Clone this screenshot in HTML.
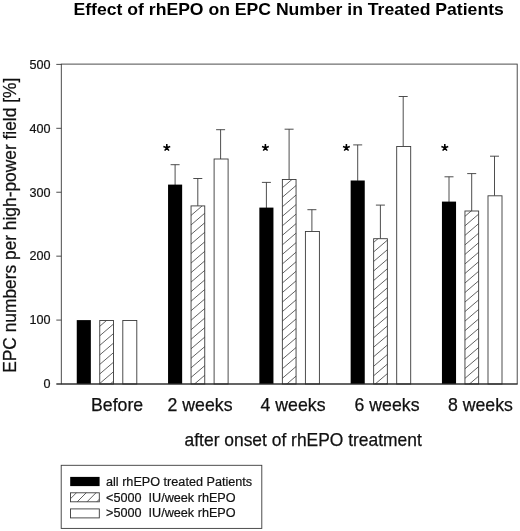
<!DOCTYPE html>
<html><head><meta charset="utf-8"><title>Effect of rhEPO on EPC Number in Treated Patients</title>
<style>
html,body{margin:0;padding:0;background:#fff;}
body{width:520px;height:531px;overflow:hidden;font-family:"Liberation Sans",sans-serif;}
svg{display:block;will-change:transform;transform:translateZ(0);}
text{font-family:"Liberation Sans",sans-serif;fill:#111;}
.ln{stroke:#3a3a3a;stroke-width:0.9;fill:none;}
.bar{stroke:#3a3a3a;stroke-width:0.9;}
.tk{font-size:12.6px;stroke:#111;stroke-width:0.2;}
.xl{font-size:17.7px;stroke:#111;stroke-width:0.25;}
.lg{font-size:12.65px;stroke:#111;stroke-width:0.2;}
.title{font-size:17px;font-weight:bold;fill:#000;}
.star{font-size:20px;font-weight:bold;fill:#000;}
</style></head><body>
<svg width="520" height="531" viewBox="0 0 520 531">
<defs>
<clipPath id="c0"><rect x="99.75" y="320.50" width="13.70" height="63.50"/></clipPath>
<clipPath id="c1"><rect x="191.05" y="205.90" width="13.70" height="178.10"/></clipPath>
<clipPath id="c2"><rect x="282.35" y="179.50" width="13.70" height="204.50"/></clipPath>
<clipPath id="c3"><rect x="373.65" y="238.70" width="13.70" height="145.30"/></clipPath>
<clipPath id="c4"><rect x="464.95" y="211.00" width="13.70" height="173.00"/></clipPath>
<clipPath id="cl"><rect x="70.50" y="492.80" width="28.80" height="9.00"/></clipPath>
</defs>
<rect width="520" height="531" fill="#fff"/>
<text x="73.5" y="15.0" class="title" textLength="430.3" lengthAdjust="spacingAndGlyphs">Effect of rhEPO on EPC Number in Treated Patients</text>
<text transform="translate(15.5,372.8) rotate(-90)" class="xl" textLength="295" lengthAdjust="spacingAndGlyphs">EPC numbers per high-power field [%]</text>
<text x="50.4" y="388.30" text-anchor="end" class="tk">0</text>
<text x="50.4" y="324.38" text-anchor="end" class="tk">100</text>
<text x="50.4" y="260.46" text-anchor="end" class="tk">200</text>
<text x="50.4" y="196.54" text-anchor="end" class="tk">300</text>
<text x="50.4" y="132.62" text-anchor="end" class="tk">400</text>
<text x="50.4" y="68.70" text-anchor="end" class="tk">500</text>
<rect x="76.75" y="320.10" width="14.10" height="63.90" fill="#000"/>
<rect x="99.75" y="320.50" width="13.70" height="63.50" fill="#fff" class="bar"/>
<path d="M98.75 317.63L114.45 304.20M98.75 327.16L114.45 313.73M98.75 336.69L114.45 323.26M98.75 346.21L114.45 332.79M98.75 355.74L114.45 342.32M98.75 365.27L114.45 351.85M98.75 374.80L114.45 361.38M98.75 384.33L114.45 370.91M98.75 393.86L114.45 380.44M98.75 403.39L114.45 389.97" clip-path="url(#c0)" stroke="#3a3a3a" stroke-width="0.8" fill="none"/>
<rect x="122.80" y="320.50" width="14.00" height="63.50" fill="#fff" class="bar"/>
<path d="M175.10 185.00V164.70M170.60 164.70H179.60" class="ln"/>
<rect x="168.05" y="184.60" width="14.10" height="199.40" fill="#000"/>
<path d="M197.80 205.90V178.50M193.30 178.50H202.30" class="ln"/>
<rect x="191.05" y="205.90" width="13.70" height="178.10" fill="#fff" class="bar"/>
<path d="M190.05 206.72L205.75 193.30M190.05 216.25L205.75 202.83M190.05 225.78L205.75 212.36M190.05 235.31L205.75 221.89M190.05 244.84L205.75 231.42M190.05 254.38L205.75 240.95M190.05 263.91L205.75 250.48M190.05 273.44L205.75 260.01M190.05 282.96L205.75 269.54M190.05 292.49L205.75 279.07M190.05 302.02L205.75 288.60M190.05 311.55L205.75 298.13M190.05 321.08L205.75 307.66M190.05 330.61L205.75 317.19M190.05 340.14L205.75 326.72M190.05 349.67L205.75 336.25M190.05 359.20L205.75 345.78M190.05 368.73L205.75 355.31M190.05 378.26L205.75 364.84M190.05 387.79L205.75 374.37M190.05 397.32L205.75 383.90" clip-path="url(#c1)" stroke="#3a3a3a" stroke-width="0.8" fill="none"/>
<path d="M220.60 159.00V129.70M216.10 129.70H225.10" class="ln"/>
<rect x="214.10" y="159.00" width="14.00" height="225.00" fill="#fff" class="bar"/>
<path d="M266.40 208.00V182.40M261.90 182.40H270.90" class="ln"/>
<rect x="259.35" y="207.60" width="14.10" height="176.40" fill="#000"/>
<path d="M289.10 179.50V129.20M284.60 129.20H293.60" class="ln"/>
<rect x="282.35" y="179.50" width="13.70" height="204.50" fill="#fff" class="bar"/>
<path d="M281.35 179.02L297.05 165.60M281.35 188.55L297.05 175.13M281.35 198.08L297.05 184.66M281.35 207.61L297.05 194.19M281.35 217.14L297.05 203.72M281.35 226.67L297.05 213.25M281.35 236.20L297.05 222.78M281.35 245.73L297.05 232.31M281.35 255.26L297.05 241.84M281.35 264.80L297.05 251.37M281.35 274.32L297.05 260.90M281.35 283.85L297.05 270.43M281.35 293.38L297.05 279.96M281.35 302.91L297.05 289.49M281.35 312.44L297.05 299.02M281.35 321.97L297.05 308.55M281.35 331.50L297.05 318.08M281.35 341.03L297.05 327.61M281.35 350.56L297.05 337.14M281.35 360.09L297.05 346.67M281.35 369.62L297.05 356.20M281.35 379.15L297.05 365.73M281.35 388.68L297.05 375.26M281.35 398.21L297.05 384.79" clip-path="url(#c2)" stroke="#3a3a3a" stroke-width="0.8" fill="none"/>
<path d="M311.90 231.50V209.70M307.40 209.70H316.40" class="ln"/>
<rect x="305.40" y="231.50" width="14.00" height="152.50" fill="#fff" class="bar"/>
<path d="M357.70 180.90V144.90M353.20 144.90H362.20" class="ln"/>
<rect x="350.65" y="180.50" width="14.10" height="203.50" fill="#000"/>
<path d="M380.40 238.70V205.10M375.90 205.10H384.90" class="ln"/>
<rect x="373.65" y="238.70" width="13.70" height="145.30" fill="#fff" class="bar"/>
<path d="M372.65 233.69L388.35 220.27M372.65 243.22L388.35 229.80M372.65 252.75L388.35 239.33M372.65 262.29L388.35 248.86M372.65 271.81L388.35 258.39M372.65 281.34L388.35 267.92M372.65 290.87L388.35 277.45M372.65 300.40L388.35 286.98M372.65 309.93L388.35 296.51M372.65 319.46L388.35 306.04M372.65 328.99L388.35 315.57M372.65 338.52L388.35 325.10M372.65 348.05L388.35 334.63M372.65 357.58L388.35 344.16M372.65 367.11L388.35 353.69M372.65 376.64L388.35 363.22M372.65 386.17L388.35 372.75M372.65 395.70L388.35 382.28M372.65 405.23L388.35 391.81" clip-path="url(#c3)" stroke="#3a3a3a" stroke-width="0.8" fill="none"/>
<path d="M403.20 146.50V96.50M398.70 96.50H407.70" class="ln"/>
<rect x="396.70" y="146.50" width="14.00" height="237.50" fill="#fff" class="bar"/>
<path d="M449.00 202.00V176.80M444.50 176.80H453.50" class="ln"/>
<rect x="441.95" y="201.60" width="14.10" height="182.40" fill="#000"/>
<path d="M471.70 211.00V173.60M467.20 173.60H476.20" class="ln"/>
<rect x="464.95" y="211.00" width="13.70" height="173.00" fill="#fff" class="bar"/>
<path d="M463.95 207.62L479.65 194.20M463.95 217.16L479.65 203.73M463.95 226.69L479.65 213.26M463.95 236.22L479.65 222.79M463.95 245.75L479.65 232.32M463.95 255.28L479.65 241.85M463.95 264.81L479.65 251.38M463.95 274.33L479.65 260.91M463.95 283.86L479.65 270.44M463.95 293.39L479.65 279.97M463.95 302.92L479.65 289.50M463.95 312.45L479.65 299.03M463.95 321.98L479.65 308.56M463.95 331.51L479.65 318.09M463.95 341.04L479.65 327.62M463.95 350.57L479.65 337.15M463.95 360.10L479.65 346.68M463.95 369.63L479.65 356.21M463.95 379.16L479.65 365.74M463.95 388.69L479.65 375.27M463.95 398.22L479.65 384.80" clip-path="url(#c4)" stroke="#3a3a3a" stroke-width="0.8" fill="none"/>
<path d="M494.50 195.80V156.20M490.00 156.20H499.00" class="ln"/>
<rect x="488.00" y="195.80" width="14.00" height="188.20" fill="#fff" class="bar"/>
<rect x="61.3" y="64.1" width="455.90000000000003" height="319.9" class="ln"/>
<path d="M56.5 384.0H517.6" stroke="#222" stroke-width="1.2" fill="none"/>
<path d="M56.3 384.00H61.3" class="ln"/>
<path d="M56.3 320.08H61.3" class="ln"/>
<path d="M56.3 256.16H61.3" class="ln"/>
<path d="M56.3 192.24H61.3" class="ln"/>
<path d="M56.3 128.32H61.3" class="ln"/>
<path d="M56.3 64.40H61.3" class="ln"/>
<path d="M166.80 147.70L166.80 144.10M166.80 147.70L170.22 146.59M166.80 147.70L168.92 150.61M166.80 147.70L164.68 150.61M166.80 147.70L163.38 146.59" stroke="#000" stroke-width="1.55" fill="none"/>
<path d="M265.40 147.70L265.40 144.10M265.40 147.70L268.82 146.59M265.40 147.70L267.52 150.61M265.40 147.70L263.28 150.61M265.40 147.70L261.98 146.59" stroke="#000" stroke-width="1.55" fill="none"/>
<path d="M346.40 147.70L346.40 144.10M346.40 147.70L349.82 146.59M346.40 147.70L348.52 150.61M346.40 147.70L344.28 150.61M346.40 147.70L342.98 146.59" stroke="#000" stroke-width="1.55" fill="none"/>
<path d="M444.80 147.70L444.80 144.10M444.80 147.70L448.22 146.59M444.80 147.70L446.92 150.61M444.80 147.70L442.68 150.61M444.80 147.70L441.38 146.59" stroke="#000" stroke-width="1.55" fill="none"/>
<text x="91.0" y="410.8" class="xl">Before</text>
<text x="167.6" y="410.8" class="xl">2 weeks</text>
<text x="260.6" y="410.8" class="xl">4 weeks</text>
<text x="354.6" y="410.8" class="xl">6 weeks</text>
<text x="448.0" y="410.8" class="xl">8 weeks</text>
<text x="184.6" y="446.4" class="xl" textLength="237.2" lengthAdjust="spacingAndGlyphs">after onset of rhEPO treatment</text>
<rect x="61.2" y="465.3" width="200.6" height="63.1" class="ln"/>
<rect x="70.2" y="476.9" width="29.4" height="9.2" fill="#000"/>
<rect x="70.5" y="492.8" width="28.8" height="9.0" fill="#fff" class="bar"/>
<path d="M69.50 489.90L100.30 459.10M69.50 499.70L100.30 468.90M69.50 509.50L100.30 478.70M69.50 519.30L100.30 488.50M69.50 529.10L100.30 498.30M69.50 538.90L100.30 508.10" clip-path="url(#cl)" stroke="#3a3a3a" stroke-width="0.8" fill="none"/>
<rect x="70.5" y="508.9" width="28.8" height="9.0" fill="#fff" class="bar"/>
<text x="106.0" y="486.0" class="lg">all rhEPO treated Patients</text>
<text x="106.0" y="501.6" class="lg" xml:space="preserve">&lt;5000  IU/week rhEPO</text>
<text x="106.0" y="517.2" class="lg" xml:space="preserve">&gt;5000  IU/week rhEPO</text>
</svg>
</body></html>
